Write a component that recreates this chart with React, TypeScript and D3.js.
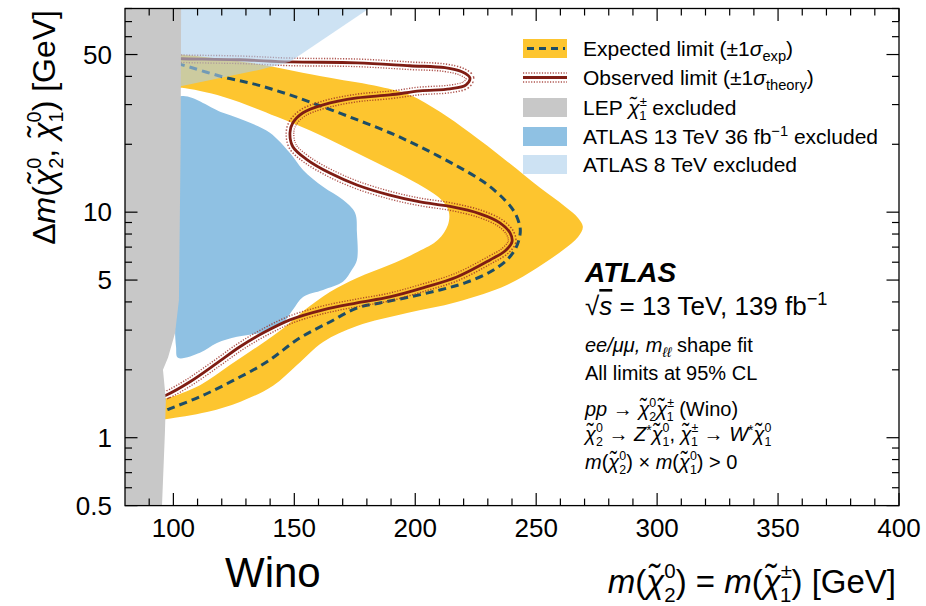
import React from "react";
import * as d3 from "d3";

// ---- axis ranges and ticks ----
const massDomain: [number, number] = [80, 400];
const dmDomain: [number, number] = [0.5, 80];
const xMajorTicks = [100, 150, 200, 250, 300, 350, 400];
const xMinorTicks = [90, 110, 120, 130, 140, 160, 170, 180, 190, 210, 220, 230, 240, 260, 270, 280, 290, 310, 320, 330, 340, 360, 370, 380, 390];
const yMajorTicks = [0.5, 1, 5, 10, 50];
const yTickLabels = ["0.5", "1", "5", "10", "50"];
const yMinorTicks = [0.6, 0.7, 0.8, 0.9, 2, 3, 4, 6, 7, 8, 9, 20, 30, 40, 60, 70, 80];

// ---- expected limit (median) ----
const expectedMass = [101.5, 103.6, 120.5, 134.6, 148.2, 161.9, 175.9, 189.5, 202.0, 216.4, 228.8, 237.1, 241.2, 243.3, 243.3, 241.6, 237.9, 230.9, 220.6, 210.2, 197.8, 185.4, 175.9, 164.7, 152.3, 138.7, 124.6, 111.0, 97.4, 96.0];
const expectedDm = [45.6, 45.0, 39.8, 36.7, 33.1, 29.3, 25.7, 22.5, 19.5, 16.2, 13.5, 11.3, 9.93, 8.61, 7.93, 6.94, 6.14, 5.43, 4.86, 4.52, 4.21, 3.96, 3.76, 3.26, 2.77, 2.17, 1.79, 1.52, 1.33, 1.31];

// ---- expected +-1 sigma band: outer and inner contours ----
const bandOuterMass = [100.7, 103.6, 131.7, 164.7, 185.4, 197.8, 210.2, 222.6, 237.1, 251.6, 261.9, 267.3, 269.3, 267.3, 261.1, 250.3, 237.9, 217.2, 196.6, 175.9, 161.9, 151.1, 141.2, 127.5, 113.9, 97.4, 94.5];
const bandOuterDm = [49.9, 49.9, 45.96, 39.4, 35.97, 33.1, 27.86, 22.5, 17.1, 12.82, 10.6, 9.43, 8.61, 7.77, 6.8, 5.66, 4.76, 4.0, 3.57, 3.13, 2.66, 2.1, 1.7, 1.44, 1.3, 1.21, 1.2];
const bandInnerMass = [94.5, 97.4, 111.0, 123.4, 135.8, 146.1, 154.4, 164.7, 175.9, 189.5, 201.1, 209.4, 213.5, 213.9, 211.0, 204.0, 191.6, 175.9, 160.6, 142.8, 120.5, 103.6, 100.7];
const bandInnerDm = [1.49, 1.5, 1.71, 2.1, 2.58, 3.1, 3.69, 4.43, 5.11, 5.84, 6.67, 7.54, 8.78, 10.03, 11.3, 12.8, 15.1, 18.3, 22.0, 26.5, 32.5, 35.6, 35.6];

// ---- observed limit ----
const observedMass = [102.0, 103.6, 127.5, 148.2, 175.9, 197.8, 212.3, 219.3, 222.6, 221.0, 214.4, 202.0, 189.5, 175.9, 161.9, 153.6, 149.4, 148.2, 149.4, 155.2, 164.7, 175.9, 189.5, 202.0, 214.4, 226.8, 235.0, 239.2, 240.0, 237.1, 230.9, 217.2, 203.2, 189.5, 175.9, 161.9, 148.2, 137.0, 127.5, 118.0, 106.9, 97.4, 96.0];
const observedDm = [48.0, 47.9, 47.4, 46.4, 45.96, 44.6, 43.7, 41.9, 39.4, 36.7, 35.2, 34.5, 33.1, 32.1, 29.9, 27.6, 24.9, 22.5, 19.5, 17.1, 14.9, 13.2, 11.9, 11.1, 10.6, 9.83, 8.97, 8.09, 7.38, 6.73, 6.14, 5.16, 4.62, 4.21, 3.96, 3.69, 3.33, 2.91, 2.53, 2.14, 1.77, 1.55, 1.53];

// ---- LEP chargino exclusion ----
const lepMass = [80, 103.2, 103.0, 102.3, 100.7, 97.8, 95.7, 96.9, 96.5, 95.3, 80];
const lepDm = [80, 80, 20, 4.08, 2.91, 2.27, 2.0, 1.47, 1.05, 0.5, 0.5];

// ---- ATLAS 13 TeV 36 fb-1 exclusion ----
const atlas36Mass = [102.0, 120.5, 131.7, 139.9, 148.2, 153.6, 161.9, 170.1, 175.1, 175.9, 175.9, 173.8, 170.1, 161.9, 153.6, 149.4, 145.3, 137.0, 126.3, 118.0, 111.0, 101.9, 101.1, 100.7, 101.5, 102.0];
const atlas36Dm = [32.3, 27.6, 24.9, 22.5, 18.3, 15.4, 12.95, 11.34, 9.93, 8.1, 6.14, 5.55, 4.91, 4.52, 4.21, 3.69, 3.23, 2.94, 2.8, 2.63, 2.38, 2.26, 2.53, 3.1, 3.69, 10];

// ---- ATLAS 8 TeV exclusion ----
const atlas8Mass = [100, 180.9, 148.2, 135.8, 100];
const atlas8Dm = [80, 80, 46.4, 42.8, 35.6];

// ---- styling ----
const FONT = "'Liberation Sans', Arial, Helvetica, sans-serif";
const YELLOW = "#fdc52f";
const EXP_COLOR = "#1d4d66";
const OBS_COLOR = "#7f1d14";
const THEORY_COLOR = "#9a2a22";
const LEP_GRAY = "#c8c8c8";
const BLUE36 = "#8fc1e3";
const BLUE8 = "#acceeb";
const BLUE8_OPACITY = 0.6;

const W = 926;
const H = 606;
const PL = 125, PR = 899, PT = 8.5, PB = 505.6;

const x = d3.scaleLinear().domain(massDomain).range([PL, PR]);
const y = d3.scaleLog().domain(dmDomain).range([PB, PT]);

type Pt = [number, number];
const pts = (m: number[], d: number[]): Pt[] => m.map((v, i) => [v, d[i]] as Pt);

const openLine = d3.line<Pt>().x(d => x(d[0])).y(d => y(d[1])).curve(d3.curveCatmullRom.alpha(0.5));
const closedSmooth = d3.line<Pt>().x(d => x(d[0])).y(d => y(d[1])).curve(d3.curveCatmullRomClosed.alpha(0.5));
const closedLinear = d3.line<Pt>().x(d => x(d[0])).y(d => y(d[1])).curve(d3.curveLinearClosed);

type Run = { t: string; o?: number; s?: number; i?: boolean; b?: boolean; dx?: number; ov?: boolean };

// tilde-chi with a stacked superscript / subscript
const SCRIPT = 0.62;
function chi(sup: string, sub: string): Run[] {
  const w = (sup === "±" ? 0.584 : 0.556) * SCRIPT;
  return [
    { t: "χ\u0303", i: true },
    { t: sup, o: -0.45, s: SCRIPT },
    { t: sub, o: 0.26, s: SCRIPT, dx: -w },
  ];
}

function RichText(props: { x: number; y: number; size: number; runs: Run[]; anchor?: string; transform?: string; fill?: string }) {
  const { x: tx, y: ty, size, runs, anchor, transform, fill } = props;
  let prev = 0;
  return (
    <text x={tx} y={ty} fontSize={size} textAnchor={anchor || "start"} transform={transform} fontFamily={FONT} fill={fill || "#000"}>
      {runs.map((r, k) => {
        const off = (r.o ?? 0) * size;
        const dy = off - prev;
        prev = off;
        return (
          <tspan
            key={k}
            dy={dy}
            dx={r.dx ? r.dx * size : undefined}
            fontSize={(r.s ?? 1) * size}
            fontStyle={r.i ? "italic" : undefined}
            fontWeight={r.b ? "bold" : undefined}
            textDecoration={r.ov ? "overline" : undefined}
          >
            {r.t}
          </tspan>
        );
      })}
    </text>
  );
}

export default function App() {
  const expectedPath = openLine(pts(expectedMass, expectedDm)) || "";
  const observedPath = openLine(pts(observedMass, observedDm)) || "";
  const bandPath =
    closedSmooth([...pts(bandOuterMass, bandOuterDm), ...pts(bandInnerMass, bandInnerDm)]) || "";
  const lepPath = closedLinear(pts(lepMass, lepDm)) || "";
  const atlas36Path = closedSmooth(pts(atlas36Mass, atlas36Dm)) || "";
  const atlas8Path = closedLinear(pts(atlas8Mass, atlas8Dm)) || "";

  const legendX = 523;
  const legendTextX = 583;
  const legendRows = [48.5, 77.5, 107.5, 136.5, 164.5];
  const legendSize = 21;

  const annX = 585;
  const annSize = 20;

  return (
    <svg width={W} height={H} viewBox={`0 0 ${W} ${H}`} style={{ position: "absolute", left: 0, top: 0, display: "block" }}>
      <defs>
        <clipPath id="plotArea">
          <rect x={PL} y={PT} width={PR - PL} height={PB - PT} />
        </clipPath>
        <mask id="obsGap" maskUnits="userSpaceOnUse" x={0} y={0} width={W} height={H}>
          <rect x={0} y={0} width={W} height={H} fill="#fff" />
          <path d={observedPath} fill="none" stroke="#000" strokeWidth={6.2} />
        </mask>
      </defs>
      <rect x={0} y={0} width={W} height={H} fill="#fff" />

      <g clipPath="url(#plotArea)">
        <path d={atlas36Path} fill={BLUE36} />
        <path d={bandPath} fill={YELLOW} />
        <path d={expectedPath} fill="none" stroke={EXP_COLOR} strokeWidth={3} strokeDasharray="8 5" />
        <path d={observedPath} fill="none" stroke={THEORY_COLOR} strokeWidth={9} strokeDasharray="1.2 1.5" mask="url(#obsGap)" opacity={0.8} />
        <path d={observedPath} fill="none" stroke={OBS_COLOR} strokeWidth={2.8} />
        <path d={atlas8Path} fill={BLUE8} opacity={BLUE8_OPACITY} />
        <path d={lepPath} fill={LEP_GRAY} />
      </g>

      {/* frame */}
      <rect x={PL} y={PT} width={PR - PL} height={PB - PT} fill="none" stroke="#000" strokeWidth={1.3} />

      {/* ticks on all four sides */}
      <g stroke="#000" strokeWidth={1.2}>
        {xMajorTicks.map(v => (
          <g key={`xM${v}`}>
            <line x1={x(v)} x2={x(v)} y1={PB} y2={PB - 12.5} />
            <line x1={x(v)} x2={x(v)} y1={PT} y2={PT + 12.5} />
          </g>
        ))}
        {xMinorTicks.map(v => (
          <g key={`xm${v}`}>
            <line x1={x(v)} x2={x(v)} y1={PB} y2={PB - 7} />
            <line x1={x(v)} x2={x(v)} y1={PT} y2={PT + 7} />
          </g>
        ))}
        {yMajorTicks.map(v => (
          <g key={`yM${v}`}>
            <line x1={PL} x2={PL + 12.5} y1={y(v)} y2={y(v)} />
            <line x1={PR} x2={PR - 12.5} y1={y(v)} y2={y(v)} />
          </g>
        ))}
        {yMinorTicks.map(v => (
          <g key={`ym${v}`}>
            <line x1={PL} x2={PL + 7} y1={y(v)} y2={y(v)} />
            <line x1={PR} x2={PR - 7} y1={y(v)} y2={y(v)} />
          </g>
        ))}
      </g>

      {/* tick labels */}
      <g fontFamily={FONT} fontSize={26} fill="#000">
        {xMajorTicks.map(v => (
          <text key={`xl${v}`} x={x(v)} y={537} textAnchor="middle">{v}</text>
        ))}
        {yMajorTicks.map((v, i) => (
          <text key={`yl${v}`} x={112} y={y(v) + 9.3} textAnchor="end">{yTickLabels[i]}</text>
        ))}
      </g>

      {/* axis titles */}
      <RichText
        x={0}
        y={0}
        size={32}
        anchor="end"
        transform="translate(55,10) rotate(-90)"
        runs={[{ t: "Δ" }, { t: "m", i: true }, { t: "(" }, ...chi("0", "2"), { t: ", " }, ...chi("0", "1"), { t: ") [GeV]" }]}
      />
      <RichText
        x={896}
        y={593}
        size={33}
        anchor="end"
        runs={[{ t: "m", i: true }, { t: "(" }, ...chi("0", "2"), { t: ") = " }, { t: "m", i: true }, { t: "(" }, ...chi("±", "1"), { t: ") [GeV]" }]}
      />
      <text x={225} y={587} fontFamily={FONT} fontSize={42}>Wino</text>

      {/* legend */}
      <g>
        <rect x={legendX} y={legendRows[0] - 9.5} width={44} height={19} fill={YELLOW} />
        <line x1={legendX + 4} x2={legendX + 42} y1={legendRows[0]} y2={legendRows[0]} stroke={EXP_COLOR} strokeWidth={3} strokeDasharray="7 5" />

        <line x1={legendX} x2={legendX + 44} y1={legendRows[1]} y2={legendRows[1]} stroke={OBS_COLOR} strokeWidth={3} />
        <line x1={legendX} x2={legendX + 44} y1={legendRows[1] - 4.5} y2={legendRows[1] - 4.5} stroke={THEORY_COLOR} strokeWidth={1.5} strokeDasharray="1.2 1.5" opacity={0.8} />
        <line x1={legendX} x2={legendX + 44} y1={legendRows[1] + 4.5} y2={legendRows[1] + 4.5} stroke={THEORY_COLOR} strokeWidth={1.5} strokeDasharray="1.2 1.5" opacity={0.8} />

        <rect x={legendX} y={legendRows[2] - 9.5} width={44} height={19} fill={LEP_GRAY} />
        <rect x={legendX} y={legendRows[3] - 9.5} width={44} height={19} fill={BLUE36} />
        <rect x={legendX} y={legendRows[4] - 9.5} width={44} height={19} fill={BLUE8} opacity={BLUE8_OPACITY} />

        <RichText x={legendTextX} y={legendRows[0] + 7.5} size={legendSize}
          runs={[{ t: "Expected limit (±1" }, { t: "σ", i: true }, { t: "exp", o: 0.22, s: 0.7 }, { t: ")" }]} />
        <RichText x={legendTextX} y={legendRows[1] + 7.5} size={legendSize}
          runs={[{ t: "Observed limit (±1" }, { t: "σ", i: true }, { t: "theory", o: 0.22, s: 0.7 }, { t: ")" }]} />
        <RichText x={legendTextX} y={legendRows[2] + 7.5} size={legendSize}
          runs={[{ t: "LEP " }, ...chi("±", "1"), { t: " excluded" }]} />
        <RichText x={legendTextX} y={legendRows[3] + 7.5} size={legendSize}
          runs={[{ t: "ATLAS 13 TeV 36 fb" }, { t: "−1", o: -0.4, s: 0.7 }, { t: " excluded" }]} />
        <RichText x={legendTextX} y={legendRows[4] + 7.5} size={legendSize}
          runs={[{ t: "ATLAS 8 TeV excluded" }]} />
      </g>

      {/* annotations */}
      <text x={annX} y={282} fontFamily={FONT} fontSize={28} fontWeight="bold" fontStyle="italic">ATLAS</text>
      <RichText x={annX} y={315} size={26}
        runs={[{ t: "√" }, { t: "s", i: true, ov: true }, { t: " = 13 TeV, 139 fb" }, { t: "−1", o: -0.4, s: 0.7 }]} />
      <RichText x={annX} y={352} size={annSize}
        runs={[{ t: "ee/μμ, m", i: true }, { t: "ℓℓ", o: 0.24, s: 0.7, i: true }, { t: " shape fit" }]} />
      <RichText x={annX} y={380} size={annSize} runs={[{ t: "All limits at 95% CL" }]} />
      <RichText x={annX} y={416} size={annSize}
        runs={[{ t: "pp", i: true }, { t: " → " }, ...chi("0", "2"), ...chi("±", "1"), { t: " (Wino)" }]} />
      <RichText x={annX} y={441} size={annSize}
        runs={[...chi("0", "2"), { t: " → " }, { t: "Z", i: true }, { t: "*", o: -0.3, s: 0.7 }, ...chi("0", "1"), { t: ", " }, ...chi("±", "1"), { t: " → " }, { t: "W", i: true }, { t: "*", o: -0.3, s: 0.7 }, ...chi("0", "1")]} />
      <RichText x={annX} y={469} size={annSize}
        runs={[{ t: "m", i: true }, { t: "(" }, ...chi("0", "2"), { t: ") × " }, { t: "m", i: true }, { t: "(" }, ...chi("0", "1"), { t: ") > 0" }]} />
    </svg>
  );
}
